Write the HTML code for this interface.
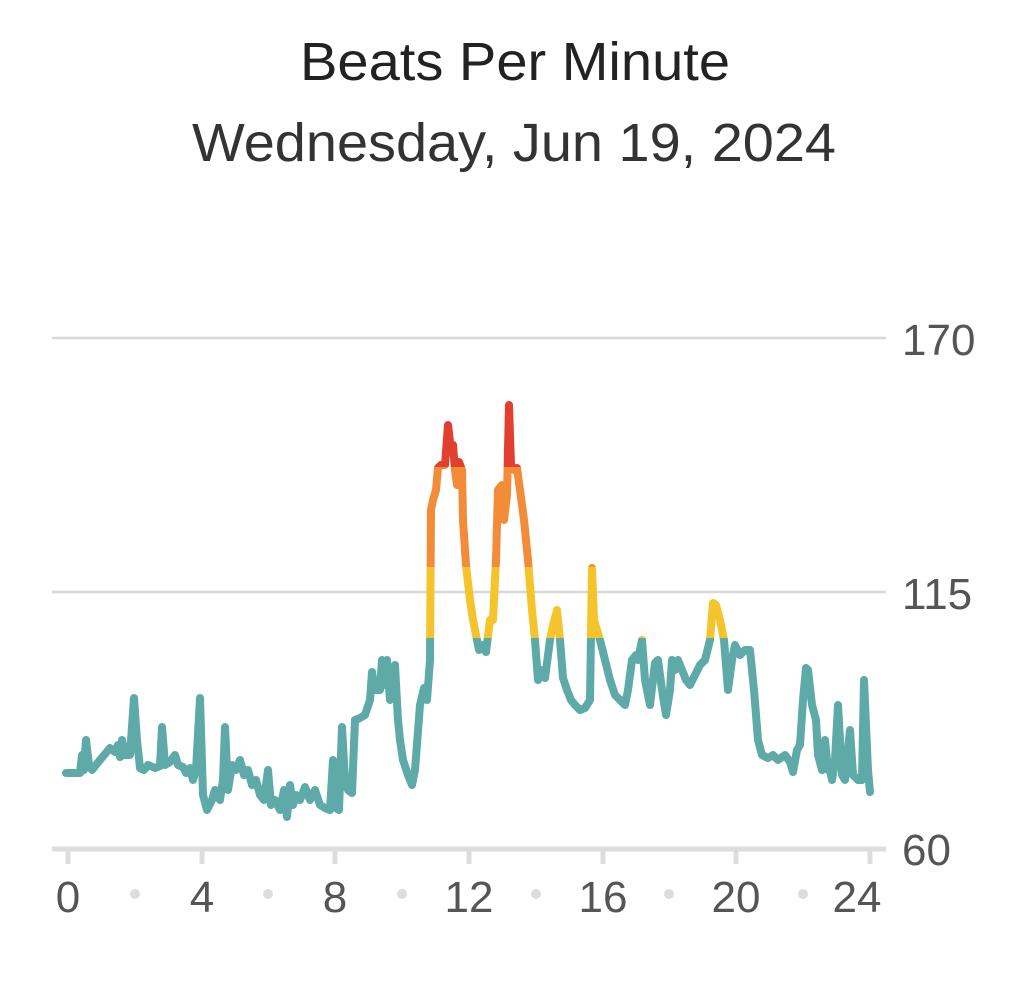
<!DOCTYPE html>
<html><head><style>
html,body{margin:0;padding:0;background:#fff;}
svg{display:block;}
</style></head><body>
<svg width="1024" height="1000" viewBox="0 0 1024 1000" xmlns="http://www.w3.org/2000/svg">
<rect width="1024" height="1000" fill="#fff"/>
<text x="515" y="80" text-anchor="middle" font-family="Liberation Sans, sans-serif" font-size="54" fill="#222" textLength="430" lengthAdjust="spacingAndGlyphs">Beats Per Minute</text>
<text x="514" y="161" text-anchor="middle" font-family="Liberation Sans, sans-serif" font-size="54" fill="#333" textLength="644" lengthAdjust="spacingAndGlyphs">Wednesday, Jun 19, 2024</text>
<line x1="52" y1="338" x2="886" y2="338" stroke="#d8d8d8" stroke-width="2.5"/>
<line x1="52" y1="592" x2="886" y2="592" stroke="#d8d8d8" stroke-width="2.5"/>
<line x1="52" y1="849" x2="886" y2="849" stroke="#ddd" stroke-width="5"/>
<g font-family="Liberation Sans, sans-serif" font-size="44" fill="#555">
<text x="902" y="355">170</text>
<text x="902" y="609">115</text>
<text x="902" y="865">60</text>
<g text-anchor="middle">
<text x="68" y="912">0</text><text x="202" y="912">4</text><text x="335" y="912">8</text><text x="469" y="912">12</text>
<text x="603" y="912">16</text><text x="736" y="912">20</text><text x="857" y="912">24</text>
</g>
</g>
<g stroke="#ddd" stroke-width="5">
<line x1="68" y1="849" x2="68" y2="864"/><line x1="202" y1="849" x2="202" y2="864"/><line x1="335" y1="849" x2="335" y2="864"/><line x1="469" y1="849" x2="469" y2="864"/><line x1="603" y1="849" x2="603" y2="864"/><line x1="736" y1="849" x2="736" y2="864"/><line x1="870" y1="849" x2="870" y2="864"/>
</g>
<g fill="#ddd">
<circle cx="135" cy="894" r="5"/><circle cx="268" cy="894" r="5"/><circle cx="402" cy="894" r="5"/><circle cx="536" cy="894" r="5"/><circle cx="669" cy="894" r="5"/><circle cx="803" cy="894" r="5"/>
</g>
<defs>
<clipPath id="cT"><rect x="0" y="638" width="1024" height="300"/></clipPath>
<clipPath id="cY"><rect x="0" y="567" width="1024" height="71"/></clipPath>
<clipPath id="cO"><rect x="0" y="467" width="1024" height="100"/></clipPath>
<clipPath id="cR"><rect x="0" y="0" width="1024" height="467"/></clipPath>
<polyline id="L" fill="none" stroke-width="8" stroke-linejoin="round" stroke-linecap="round" points="66,773 80,773 82,755 84,770 86,740 89,765 92,770 100,760 110,748 115,752 118,745 120,757 122,740 125,755 130,755 134,698 137,740 140,768 144,770 148,765 155,768 160,766 162,727 165,765 170,762 175,755 178,765 183,767 186,773 190,768 193,780 196,770 200,698 203,795 207,810 212,800 215,790 220,800 223,780 225,727 228,790 232,765 236,770 240,760 244,775 248,770 252,785 256,780 260,795 264,800 268,770 271,805 275,800 280,810 284,790 287,817 290,785 293,805 296,795 300,800 305,787 310,800 315,790 320,805 325,808 330,810 333,760 335,807 339,810 342,727 345,780 348,790 352,793 355,720 360,718 365,715 370,700 372,672 375,690 380,690 382,660 385,685 387,660 390,700 392,685 395,665 398,720 400,740 403,760 408,775 412,785 415,770 420,705 424,688 427,700 430,660 431,510 433,500 436,490 438,468 441,465 445,465 448,425 451,450 453,445 455,470 457,485 459,462 462,470 463,520 466,565 470,600 473,620 476,635 479,650 483,645 486,652 490,620 493,620 496,560 498,490 502,485 504,520 507,495 509,405 511,465 514,470 517,468 520,490 524,520 528,560 532,610 535,640 538,680 542,670 545,678 550,640 553,625 557,610 560,640 563,678 567,690 571,700 575,705 580,710 585,708 590,700 592,568 594,620 597,630 600,640 605,660 610,680 615,695 620,700 625,705 628,690 632,660 636,655 638,660 642,640 645,680 650,705 655,663 658,660 662,690 666,715 670,690 672,660 675,670 678,660 682,670 686,680 690,685 695,675 700,665 705,660 710,640 713,603 716,605 720,620 724,640 728,690 732,660 735,645 740,655 745,650 750,650 754,690 758,740 762,755 768,758 773,755 778,760 785,755 790,762 793,772 797,750 800,745 803,700 806,668 808,670 812,705 816,720 818,755 822,770 825,740 828,770 830,770 832,780 835,760 838,705 842,775 845,780 850,730 853,775 858,780 862,780 864,680 868,770 870,792"/>
</defs>
<use href="#L" stroke="#5eaaa8" clip-path="url(#cT)"/>
<use href="#L" stroke="#f5c42c" clip-path="url(#cY)"/>
<use href="#L" stroke="#f28c38" clip-path="url(#cO)"/>
<use href="#L" stroke="#e23f2f" clip-path="url(#cR)"/>
</svg>
</body></html>
